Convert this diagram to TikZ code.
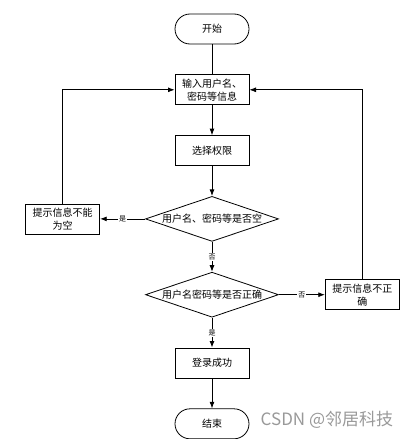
\documentclass[tikz,border=0pt]{standalone}
\usepackage{fontspec}
\setmainfont{Noto Sans CJK SC}
\usetikzlibrary{positioning,arrows.meta,shapes.geometric}

\begin{document}
\begin{tikzpicture}[x=1pt, y=1pt, node distance=30pt, >=Latex, line width=0.8pt,
  font=\fontsize{10}{13}\selectfont,
  box/.style={draw, rectangle, minimum width=74pt, minimum height=30pt, inner sep=2pt, align=center},
  term/.style={box, rounded corners=15pt},
  decide/.style={draw, diamond, minimum width=133pt, minimum height=45pt, inner sep=0pt},
  tag/.style={fill=white, inner sep=1pt, font=\fontsize{7}{7}\selectfont}]
  \useasboundingbox (0,0) rectangle (413,-439);
  \node[term] (start) at (212,-29) {开始};
  \node[box, below=of start] (input) {输入用户名、\\密码等信息};
  \node[box, below=of input] (role) {选择权限};
  \node[decide, below=of role] (empty) {\makebox[0pt]{用户名、密码等是否空}};
  \node[box, left=45pt of empty] (emptymsg) {提示信息不能\\为空};
  \node[decide, below=of empty] (check) {\makebox[0pt]{用户名密码等是否正确}};
  \node[box, right=46pt of check] (wrongmsg) {提示信息不正\\确};
  \node[box, below=of check] (ok) {登录成功};
  \node[term, below=of ok] (stop) {结束};
  \node[text=black!40, anchor=west, font=\fontsize{17}{17}\selectfont] (mark) at (257,-420) {CSDN @邻居科技};

  \draw (start) -- (input);
  \draw[->] (input) -- (role);
  \draw[->] (role) -- (empty);
  \draw[->] (empty) -- node[tag] {是} (emptymsg);
  \draw[->] (empty) -- node[tag] {否} (check);
  \draw[->] (check) -- node[tag] {否} (wrongmsg);
  \draw[->] (check) -- node[tag] {是} (ok);
  \draw[->] (ok) -- (stop);
  \draw[->] (emptymsg.north) |- (input.west);
  \draw[->] (wrongmsg.north) |- (input.east);
\end{tikzpicture}
\end{document}
